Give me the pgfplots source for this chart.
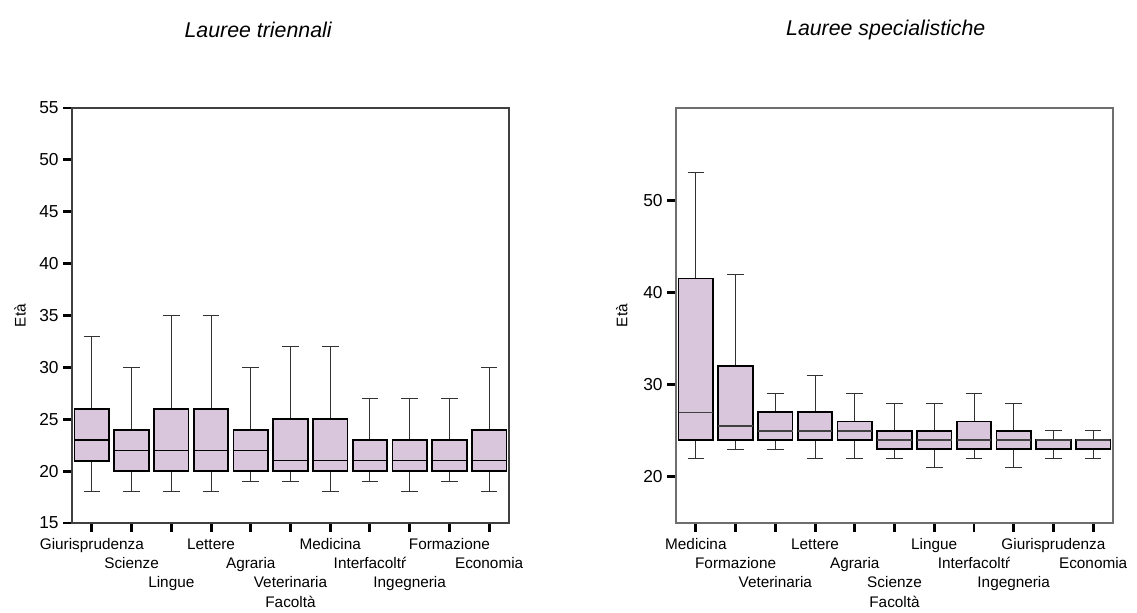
\documentclass[border=0pt]{standalone}
\usepackage{fontspec}
\setmainfont{Liberation Sans}
\usepackage{pgfplots}
\pgfplotsset{compat=1.18}
\usepgfplotslibrary{statistics}
\definecolor{boxfill}{RGB}{217,197,220}
\definecolor{frameL}{RGB}{64,64,64}
\definecolor{frameR}{RGB}{110,110,110}
\definecolor{whisk}{RGB}{50,50,50}
\pgfplotsset{
  mybox/.style={
    scale only axis, width=327.75pt, height=311.25pt, anchor=south west,
    xmin=-0.5, xmax=10.5, xtick={0,...,10},
    tick pos=left, tick align=outside,
    major tick length=6.5pt,
    tick style={line width=2.2pt, black},
    /pgf/number format/assume math mode=true,
    xticklabel style={font=\fontsize{11.5}{14.25}\selectfont, align=center, anchor=north, inner sep=1pt, yshift=-2pt},
    yticklabel style={font=\fontsize{13}{15}\selectfont},
    label style={font=\fontsize{11.5}{14.25}\selectfont},
    xlabel={Facoltà}, ylabel={Età},
    xlabel style={at={(axis description cs:0.5,-0.19)}, anchor=center},
    title style={font=\fontsize{16}{19}\selectfont\itshape, anchor=center},
    boxplot/draw direction=y,
    boxplot/box extend=0.87,
    boxplot/whisker extend=0.42,
    boxplot/every box/.style={draw=black, line width=1.3pt, fill=boxfill},
    boxplot/every whisker/.style={draw=whisk, line width=0.7pt},
    boxplot/every median/.style={draw=black, line width=0.8pt},
  },
  bp/.style={solid, mark=none},
}
\begin{document}
\begin{tikzpicture}
\path[use as bounding box] (0,0) rectangle (852.75pt,459pt);
\begin{axis}[mybox, at={(54pt,66.75pt)},
  axis line style={draw=frameL, line width=0.8pt},
  ymin=15, ymax=55, ytick={15,20,...,55},
  title={Lauree triennali},
  title style={at={(axis description cs:0.426,1.168)}},
  ylabel style={at={(axis description cs:-0.119,0.5)}, anchor=center},
  xticklabels={{\strut Giurisprudenza},{\strut\\\strut Scienze},{\strut\\\strut\\\strut Lingue},
    {\strut Lettere},{\strut\\\strut Agraria},{\strut\\\strut\\\strut Veterinaria},
    {\strut Medicina},{\strut\\\strut Interfacoltŕ},{\strut\\\strut\\\strut Ingegneria},
    {\strut Formazione},{\strut\\\strut Economia}},
]
\addplot+[bp, boxplot prepared={lower whisker=18, lower quartile=21, median=23, upper quartile=26, upper whisker=33, draw position=0}] coordinates {};
\addplot+[bp, boxplot prepared={lower whisker=18, lower quartile=20, median=22, upper quartile=24, upper whisker=30, draw position=1}] coordinates {};
\addplot+[bp, boxplot prepared={lower whisker=18, lower quartile=20, median=22, upper quartile=26, upper whisker=35, draw position=2}] coordinates {};
\addplot+[bp, boxplot prepared={lower whisker=18, lower quartile=20, median=22, upper quartile=26, upper whisker=35, draw position=3}] coordinates {};
\addplot+[bp, boxplot prepared={lower whisker=19, lower quartile=20, median=22, upper quartile=24, upper whisker=30, draw position=4}] coordinates {};
\addplot+[bp, boxplot prepared={lower whisker=19, lower quartile=20, median=21, upper quartile=25, upper whisker=32, draw position=5}] coordinates {};
\addplot+[bp, boxplot prepared={lower whisker=18, lower quartile=20, median=21, upper quartile=25, upper whisker=32, draw position=6}] coordinates {};
\addplot+[bp, boxplot prepared={lower whisker=19, lower quartile=20, median=21, upper quartile=23, upper whisker=27, draw position=7}] coordinates {};
\addplot+[bp, boxplot prepared={lower whisker=18, lower quartile=20, median=21, upper quartile=23, upper whisker=27, draw position=8}] coordinates {};
\addplot+[bp, boxplot prepared={lower whisker=19, lower quartile=20, median=21, upper quartile=23, upper whisker=27, draw position=9}] coordinates {};
\addplot+[bp, boxplot prepared={lower whisker=18, lower quartile=20, median=21, upper quartile=24, upper whisker=30, draw position=10}] coordinates {};
\end{axis}
\begin{axis}[mybox, at={(507pt,66.75pt)},
  axis line style={draw=frameR, line width=0.8pt},
  ymin=15, ymax=60, ytick={20,30,40,50},
  title={Lauree specialistiche},
  title style={at={(axis description cs:0.48,1.168)}},
  ylabel style={at={(axis description cs:-0.124,0.5)}, anchor=center},
  boxplot/every median/.style={draw=black!75, line width=1.2pt},
  xticklabels={{\strut Medicina},{\strut\\\strut Formazione},{\strut\\\strut\\\strut Veterinaria},
    {\strut Lettere},{\strut\\\strut Agraria},{\strut\\\strut\\\strut Scienze},
    {\strut Lingue},{\strut\\\strut Interfacoltŕ},{\strut\\\strut\\\strut Ingegneria},
    {\strut Giurisprudenza},{\strut\\\strut Economia}},
]
\addplot+[bp, boxplot prepared={lower whisker=22, lower quartile=24, median=27, upper quartile=41.5, upper whisker=53, draw position=0}] coordinates {};
\addplot+[bp, boxplot prepared={lower whisker=23, lower quartile=24, median=25.5, upper quartile=32, upper whisker=42, draw position=1}] coordinates {};
\addplot+[bp, boxplot prepared={lower whisker=23, lower quartile=24, median=25, upper quartile=27, upper whisker=29, draw position=2}] coordinates {};
\addplot+[bp, boxplot prepared={lower whisker=22, lower quartile=24, median=25, upper quartile=27, upper whisker=31, draw position=3}] coordinates {};
\addplot+[bp, boxplot prepared={lower whisker=22, lower quartile=24, median=25, upper quartile=26, upper whisker=29, draw position=4}] coordinates {};
\addplot+[bp, boxplot prepared={lower whisker=22, lower quartile=23, median=24, upper quartile=25, upper whisker=28, draw position=5}] coordinates {};
\addplot+[bp, boxplot prepared={lower whisker=21, lower quartile=23, median=24, upper quartile=25, upper whisker=28, draw position=6}] coordinates {};
\addplot+[bp, boxplot prepared={lower whisker=22, lower quartile=23, median=24, upper quartile=26, upper whisker=29, draw position=7}] coordinates {};
\addplot+[bp, boxplot prepared={lower whisker=21, lower quartile=23, median=24, upper quartile=25, upper whisker=28, draw position=8}] coordinates {};
\addplot+[bp, boxplot prepared={lower whisker=22, lower quartile=23, median=24, upper quartile=24, upper whisker=25, draw position=9}] coordinates {};
\addplot+[bp, boxplot prepared={lower whisker=22, lower quartile=23, median=24, upper quartile=24, upper whisker=25, draw position=10}] coordinates {};
\end{axis}
\end{tikzpicture}
\end{document}
